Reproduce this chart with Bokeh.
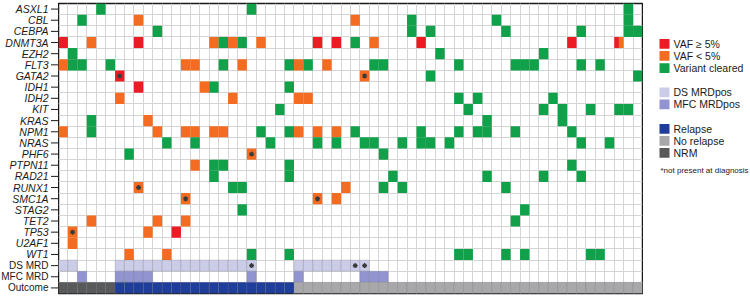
from bokeh.plotting import figure
from bokeh.models import Range1d, FixedTicker, ColumnDataSource
from bokeh.layouts import row
from bokeh.embed import file_html
from bokeh.resources import INLINE
from bokeh.core.properties import value

# ---------------- data ----------------
n_patients = 62
genes = ["ASXL1", "CBL", "CEBPA", "DNMT3A", "EZH2", "FLT3", "GATA2", "IDH1", "IDH2",
         "KIT", "KRAS", "NPM1", "NRAS", "PHF6", "PTPN11", "RAD21", "RUNX1", "SMC1A",
         "STAG2", "TET2", "TP53", "U2AF1", "WT1"]
tracks = ["DS MRD", "MFC MRD", "Outcome"]

# patient indices (0-based, left to right) per gene
vaf_high = {"DNMT3A": [0, 8, 27, 29, 38, 54], "GATA2": [6], "IDH1": [8], "TP53": [12]}
vaf_low = {
    "CBL": [8, 31], "DNMT3A": [3, 16, 18, 21, 33], "FLT3": [0, 13, 14, 19, 25, 28],
    "GATA2": [32], "IDH1": [15], "IDH2": [6, 18, 25, 26], "KRAS": [9],
    "NPM1": [0, 10, 13, 14, 16, 17, 25, 27, 29], "PHF6": [20], "PTPN11": [14],
    "RUNX1": [8, 30], "SMC1A": [13, 27, 29], "TET2": [3, 10, 13], "TP53": [1, 9],
    "U2AF1": [1], "WT1": [7, 11],
}
cleared = {
    "ASXL1": [4, 20, 60], "CBL": [2, 37, 46, 60], "CEBPA": [10, 37, 39, 47, 55, 60, 61],
    "DNMT3A": [17, 19, 31], "EZH2": [1, 40, 51],
    "FLT3": [1, 2, 5, 17, 24, 26, 33, 34, 42, 48, 49, 50, 55, 57],
    "GATA2": [39, 61], "IDH1": [16, 24], "IDH2": [42, 44, 52],
    "KIT": [23, 43, 51, 53, 56, 59, 60], "KRAS": [3, 45, 53],
    "NPM1": [3, 21, 24, 31, 38, 42, 44, 45, 48, 54],
    "NRAS": [11, 14, 22, 27, 29, 32, 33, 36, 38, 39, 41, 55, 58],
    "PHF6": [7, 34], "PTPN11": [16, 17, 24, 54], "RAD21": [16, 24, 35, 45, 51, 55],
    "RUNX1": [18, 19, 34, 36, 47], "STAG2": [19, 49], "TET2": [48],
    "WT1": [20, 24, 42, 43, 47, 49, 56, 57],
}
# cell split into VAF>=5% (left half) and VAF<5% (right half)
split_cells = [("DNMT3A", 59)]
# variants not present at diagnosis
new_variants = [("GATA2", 6), ("RUNX1", 8), ("SMC1A", 13), ("TP53", 1), ("PHF6", 20),
                ("SMC1A", 27), ("GATA2", 32), ("DS MRD", 20), ("DS MRD", 31), ("DS MRD", 32)]
ds_mrd_pos = [0, 1] + list(range(6, 21)) + list(range(25, 33))
mfc_mrd_pos = [2, 6, 7, 8, 9, 20, 25, 32, 33, 34]
outcome = ["NRM"] * 6 + ["Relapse"] * 19 + ["No relapse"] * 37

# ---------------- styles ----------------
C_HIGH, C_LOW, C_CLR = "#ED1C24", "#F36C21", "#10A14A"
C_DS, C_MFC = "#CBCCE8", "#9194D1"
C_OUT = {"Relapse": "#1F3E9B", "No relapse": "#A8A8AA", "NRM": "#58595B"}
FONT = value("Liberation Sans")
INK = "#1a1a1a"

rows = genes + tracks
nrow = len(rows)
row_y = {r: nrow - i - 0.5 for i, r in enumerate(rows)}
yr = Range1d(0, nrow)
H = 297
LW, MW, GW = 58, 585, 107
BT, BB = 3, 4

p = figure(width=MW, height=H, x_range=Range1d(0, n_patients), y_range=yr,
           x_axis_location=None, y_axis_location=None, toolbar_location=None,
           output_backend="svg", min_border_left=0, min_border_right=1,
           min_border_top=BT, min_border_bottom=BB)
p.outline_line_color = INK
p.outline_line_width = 1.5
p.xgrid.ticker = FixedTicker(ticks=list(range(n_patients + 1)))
p.ygrid.ticker = FixedTicker(ticks=list(range(nrow + 1)))
p.grid.grid_line_color = "#d5d5d5"
p.grid.grid_line_width = 1


def cells(d, color):
    xs, ys = [], []
    for g, pts in d.items():
        for pt in pts:
            xs.append(pt + 0.5)
            ys.append(row_y[g])
    p.rect(x=xs, y=ys, width=1, height=1, fill_color=color, line_color=None)


cells(vaf_high, C_HIGH)
cells(vaf_low, C_LOW)
cells(cleared, C_CLR)
for g, pt in split_cells:
    p.rect(x=[pt + 0.25], y=[row_y[g]], width=0.5, height=1, fill_color=C_HIGH, line_color=None)
    p.rect(x=[pt + 0.75], y=[row_y[g]], width=0.5, height=1, fill_color=C_LOW, line_color=None)

band_kw = dict(width=1, height=1, line_color="#6f6f6f", line_alpha=0.22, line_width=1)
p.rect(x=[i + 0.5 for i in ds_mrd_pos], y=[row_y["DS MRD"]] * len(ds_mrd_pos),
       fill_color=C_DS, **band_kw)
p.rect(x=[i + 0.5 for i in mfc_mrd_pos], y=[row_y["MFC MRD"]] * len(mfc_mrd_pos),
       fill_color=C_MFC, **band_kw)
p.rect(x=[i + 0.5 for i in range(n_patients)], y=[row_y["Outcome"]] * n_patients,
       fill_color=[C_OUT[o] for o in outcome], **band_kw)

p.scatter(x=[pt + 0.5 for g, pt in new_variants], y=[row_y[g] for g, pt in new_variants],
          marker="asterisk", size=5, line_color="#3a3a3a", line_width=1.2)

# ---------------- row labels + ticks ----------------
pl = figure(width=LW, height=H, x_range=Range1d(0, LW), y_range=yr,
            x_axis_location=None, y_axis_location=None, toolbar_location=None,
            output_backend="svg", min_border_left=0, min_border_right=0,
            min_border_top=BT, min_border_bottom=BB)
pl.outline_line_color = None
pl.grid.visible = False
ty = [row_y[r] for r in rows]
pl.segment(x0=[LW - 7.5] * nrow, y0=ty, x1=[LW] * nrow, y1=ty, line_color=INK, line_width=1)
lab_src = ColumnDataSource(dict(
    x=[LW - 10] * nrow, y=ty, text=rows,
    style=["italic" if r in genes else "normal" for r in rows],
    size=["10.5px" if r in genes else "10px" for r in rows]))
pl.text(x="x", y="y", text="text", source=lab_src, text_align="right",
        text_baseline="middle", text_font=FONT, text_font_size="size",
        text_font_style="style", text_color=INK)

# ---------------- legend ----------------
pg = figure(width=GW, height=H, x_range=Range1d(0, GW), y_range=Range1d(H, 0),
            x_axis_location=None, y_axis_location=None, toolbar_location=None,
            output_backend="svg", min_border=0, min_border_left=0, min_border_right=0,
            min_border_top=0, min_border_bottom=0)
pg.outline_line_color = None
pg.grid.visible = False
legend_groups = [
    [("VAF \u2265 5%", C_HIGH), ("VAF < 5%", C_LOW), ("Variant cleared", C_CLR)],
    [("DS MRDpos", C_DS), ("MFC MRDpos", C_MFC)],
    [("Relapse", C_OUT["Relapse"]), ("No relapse", C_OUT["No relapse"]), ("NRM", C_OUT["NRM"])],
]
ly, lx_sw, lx_tx, step, gap = 41.3, 21, 30, 12.4, 12.5
ys, cols, labs = [], [], []
for grp in legend_groups:
    for lab, col in grp:
        ys.append(ly)
        cols.append(col)
        labs.append(lab)
        ly += step
    ly += gap
pg.rect(x=[lx_sw] * len(ys), y=ys, width=10, height=10, fill_color=cols, line_color=None)
pg.text(x=[lx_tx] * len(ys), y=ys, text=labs, text_baseline="middle", text_font=FONT,
        text_font_size=value("10.5px"), text_color=INK)
pg.text(x=[17], y=[ys[-1] + 18], text=["*not present at diagnosis"], text_baseline="middle",
        text_font=FONT, text_font_size=value("8px"), text_color=INK)

layout = row(pl, p, pg)
open("out.html", "w").write(file_html(layout, INLINE))
